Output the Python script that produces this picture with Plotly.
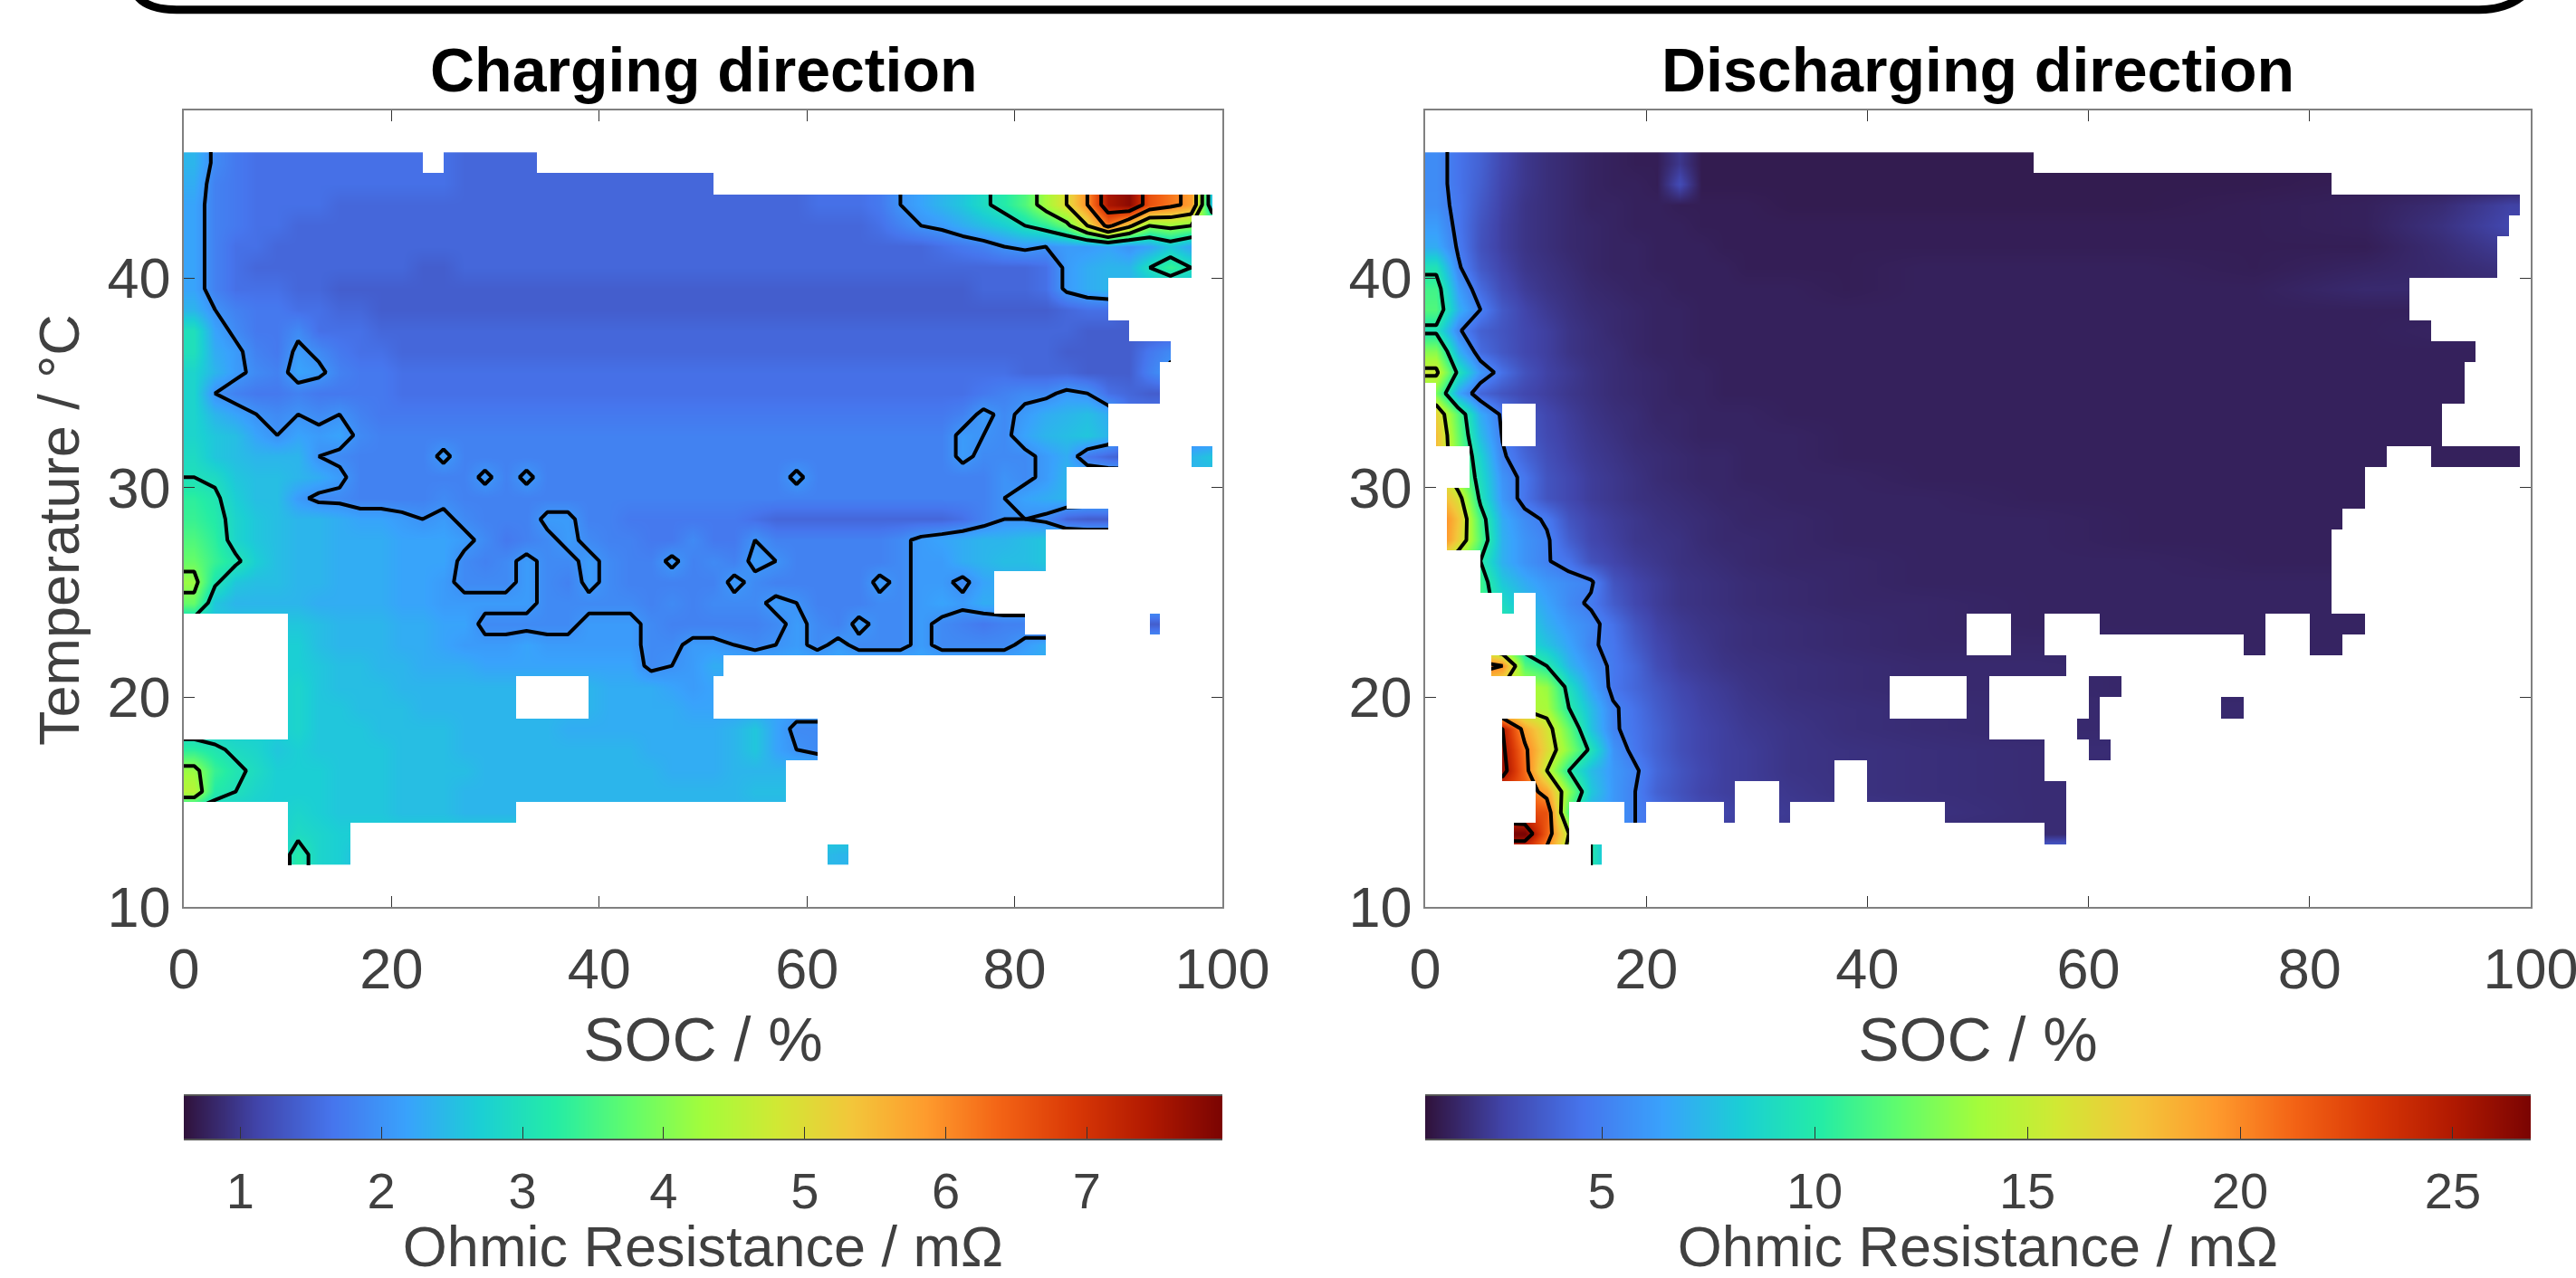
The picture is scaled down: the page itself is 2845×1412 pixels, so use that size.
import numpy as np
import plotly.graph_objects as go

W, H = 2845, 1412
temp_rows = list(range(45, 11, -1))          # lower edge of every 1 degC row
soc_charge = list(range(1, 100, 2))
soc_discharge = [1,3,5,7,9,11,13,15,17,19,21,23,25,27,29,33,38,45,55,65,75,85,92,98]

# Ohmic resistance, in 0.1 mOhm, top row first
charge_z = [
 [24,19,17]+[16]*10+[15]*5,
 [23,18,17]+[16]*10+[15]*13+[15]*4+[16,16,16,17,20,22,24,26,29,32,36,43,50,60,75,78,66,62,58,24],
 [22,18,17,16,16,16,16]+[15]*23+[16,16,16,17,20,22,24,26,29,32,36,43,50,60,75,78,66,62,58,24],
 [22,18,17,16,16]+[15]*28+[16,18,20,21,23,25,27,30,33,38,50,62,52,40,42,40],
 [22,18,16,16]+[15]*32+[16,17,18,20,21,20,21,21,22,20,22,26,22],
 [22,18,16]+[15]*8+[14,14]+[15]*27+[15,16,21,23,24,24,30,34,30],
 [22,18,16,16,16,15,15]+[14]*31+[15,15,15,16,21,23,24],
 [24,20,18,17,17,16,16,15,15]+[14]*31+[14,14,15,16,16,14],
 [30,22,19,17,17,19,16,16,16]+[15]*31+[15,15,15,14,14,14],
 [30,23,21,18,17,21,19,17,16,16]+[15]*30+[15,15,14,14,14,14,17,19],
 [28,24,21,19,18,22,21,18,17,17]+[16]*30+[15,15,15,14,14,14,18,21],
 [28,20,18,17,17,18,17,17,17,17]+[16]*28+[17,18,19,19,21,20,16,15,14],
 [28,24,22,20,19,20,19,20,18]+[17]*27+[17,18,21,19,21,23,24,25,23,17],
 [28,26,25,22,20,22,21,22,19]+[18]*28+[21,20,19,22,24,25,26,24,18],
 [29,26,25,24,24,24,20,19,18,18,18,18,21]+[18]*24+[21,19,19,19,21,23,17,15,14,14,14,24,26],
 [30,29,26,25,25,24,23,21,18,18,18,18,18,18,21,18,21]+[18]*12+[21]+[18]*9+[20,19,21,24],
 [33,31,27,25,25,21,19,19,18,18,18,18,19]+[18]*25+[18,20,22,23,24],
 [34,32,28,26,25,24,24,23,22,22,21,20,21,19,18,18,18,21,21,18,18,17,17,17,17,17,17,16,15,15,15,15,15,15,15,15,15,16,18,20,20,19,15,14,14],
 [36,33,28,26,25,24,24,23,23,23,22,22,22,21,19,17,18,19,21,19,18,18,17,17,19,17,17,20,18,18,18,18,18,18,19,21,22,23,24,24,25,26],
 [38,34,31,27,25,24,24,23,23,23,22,22,22,19,18,19,21,19,19,21,19,18,18,21,18,19,18,21,20,18,18,18,18,18,19,21,21,23,24,25,25,26],
 [42,31,26,25,25,24,24,23,23,23,22,22,21,19,19,19,21,19,18,21,19,18,18,18,18,18,21,19,18,18,18,18,18,21,19,21,21,19,22,23],
 [38,26,24,24,24,24,23,23,23,23,22,22,21,21,21,21,21,19,19,19,19,19,18,19,18,19,19,19,21,20,18,18,18,19,19,21,22,21,23,23],
 [26]*5+[26,25,24,24,24,23,23,22,22,19,19,19,19,19,21,21,21,19,18,18,18,18,18,19,21,19,18,21,19,19,21,19,18,17,18,18]+[14]*8,
 [27]*5+[27,25,24,24,24,23,23,22,21,21,21,22,21,21,21,21,21,19,19,21,21,20,19,20,21,19,21,19,19,19,21,19,19,19,19,21,23],
 [27]*5+[27,26,25,25,24,24,23,23,23,22,22,22,22,22,22,22,22,19,20,21,23],
 [27]*5+[28,26,25,25,25,24,24,24,24,24,24,24,24,24,24,23,23,23,22,21,22],
 [27]*5+[28,26,26,25,25,25,24,24,24,24,24,24,24,24,24,23,23,23,23,22,22],
 [27]*5+[28,26,26,26,25,25,25,25,24,24,24,24,24,23,23,23,23,23,23,23,23,24,26,22,19,19],
 [33,31,29,28,26,27,26,26,26,26,25,25,25,24,24,24,24,24,24,24,24,24,23,23,23,23,24,26,22,20,19],
 [42,34,31,29,27,27,27,26,26,26,25,25,25,25,24,24,24,24,24,24,24,24,24,23,23,23,24,24,24],
 [45,32,30,28,27,27,27,26,26,26,25,25,25,24,24,24,24,24,24,24,24,24,24,24,24,24,24,25,25],
 [27]*5+[28,27,26,26,26,25,25,25,24,24,24],
 [27]*5+[29,28,27],
 [27]*5+[32,28,27]+[25]*23+[24],
]
discharge_z = [
 [55,45,38,28,22,19,17,15,14,13,13,22,12,12,12,12,12,12,12],
 [55,45,37,27,22,19,17,15,14,14,13,30,12,12,12,12,12,12,12,12,12,13],
 [56,46,35,26,21,19,17,15,15,14,14,13,13,13,13,12,12,12,12,12,13,14,18,26],
 [62,46,33,25,21,19,17,16,15,14,14,14,13,13,13,13,13,13,13,13,13,14,20,28],
 [68,48,32,25,21,19,17,16,15,15,14,14,14,13,13,13,13,13,13,13,13,13,18,24],
 [95,52,35,27,22,20,18,16,15,15,14,14,14,14,13,13,13,14,14,14,13,15,17,20],
 [110,62,42,30,24,21,19,17,16,15,15,14,14,14,14,14,13,14,14,14,14,17],
 [115,70,50,35,27,23,20,18,17,16,15,15,14,14,14,14,14,14,14,14,14,14,14],
 [95,52,38,33,28,25,21,19,17,16,15,15,14,14,14,14,14,14,14,14,14,14,15],
 [130,70,42,34,28,25,21,19,18,16,15,15,14,14,14,14,14,14,14,14,14,14,14],
 [155,95,60,44,32,26,23,20,18,17,16,15,15,14,14,14,14,14,14,14,14,14,14],
 [125,65,40,33,28,25,22,20,18,17,16,15,15,14,14,14,14,14,14,14,14,14,14],
 [170,115,68,47,35,28,24,21,19,18,16,16,15,15,15,14,14,14,14,14,14,14,14],
 [180,120,75,49,36,29,25,22,20,18,17,16,15,15,15,15,14,14,14,14,14,14,14],
 [180,125,85,52,40,31,26,23,21,19,18,17,16,16,15,15,14,14,14,14,14,14,14,14],
 [185,130,90,58,46,33,28,24,22,20,18,17,16,16,15,15,15,14,14,14,14,14],
 [190,160,95,60,45,33,28,24,22,20,19,18,17,16,16,15,15,15,14,14,14,14],
 [215,175,110,68,55,48,33,27,24,22,20,19,18,17,16,16,15,15,15,14,14,14],
 [215,170,115,70,58,52,37,28,25,22,21,20,18,17,17,16,15,15,15,14,14],
 [170,130,100,70,58,51,45,32,27,24,22,20,19,18,17,16,16,15,15,15,14],
 [160,125,110,80,68,60,55,52,33,27,24,21,20,19,18,17,16,15,15,15,15],
 [160,125,110,90,75,65,54,48,36,28,24,21,20,19,18,17,16,16,15,15,15],
 [170,140,120,100,85,70,60,54,44,33,26,23,21,20,19,18,17,16,15,15,15,15],
 [170,150,130,110,90,78,65,52,46,36,28,24,22,20,19,18,17,16,16,16,15,15],
 [220,220,215,200,115,100,72,58,47,40,30,25,23,21,20,19,18,17,17,16],
 [190,170,160,150,145,135,92,65,46,40,34,28,25,23,21,19,18,17,17,16],
 [190,170,160,150,145,140,100,75,52,44,36,30,26,24,22,20,19,18,17,17,17],
 [255,255,255,250,190,160,120,78,52,45,38,31,27,25,23,21,19,18,17,17],
 [255,255,255,255,205,165,130,95,58,46,38,31,27,25,24,21,20,19,18],
 [260,260,260,260,210,150,100,75,60,52,40,33,28,25,24,21,20,19,18,17],
 [230,230,230,225,215,190,130,80,60,50,38,32,27,25,24,22,20,19,18],
 [240,240,240,230,225,220,110,70,60,50,44,35,30,27,25,23,22,20,18],
 [270,270,270,270,270,215,150,100,60,50,40,30,27,25,24,22,20,18,18],
 [215,215,215,215,215,190,140,100,60,50],
]

# measured SOC spans per temperature row
charge_spans = {
 45:[(0,23),(25,34)],44:[(0,51)],43:[(0,99)],42:[(0,97)],41:[(0,97)],40:[(0,97)],
 39:[(0,89)],38:[(0,89)],37:[(0,91)],36:[(0,95)],35:[(0,94)],34:[(0,94)],33:[(0,89)],32:[(0,89)],
 31:[(0,90),(97,99)],30:[(0,85)],29:[(0,85)],28:[(0,89)],27:[(0,83)],26:[(0,83)],25:[(0,78)],24:[(0,78)],
 23:[(10,81),(93,94)],22:[(10,83)],21:[(10,52)],20:[(10,32),(39,51)],19:[(10,32),(39,51)],18:[(10,61)],
 17:[(0,61)],16:[(0,58)],15:[(0,58)],14:[(10,32)],13:[(10,16)],12:[(10,16),(62,64)],
}
discharge_spans = {
 45:[(0,55)],44:[(0,82)],43:[(0,99)],42:[(0,98)],41:[(0,97)],40:[(0,97)],39:[(0,89)],38:[(0,89)],
 37:[(0,91)],36:[(0,95)],35:[(0,94)],34:[(1,94)],33:[(1,7),(10,92)],32:[(1,7),(10,92)],
 31:[(4,87),(91,99)],30:[(4,85)],29:[(2,85)],28:[(2,83)],27:[(2,82)],26:[(5,82)],25:[(5,82)],
 24:[(7,8),(10,82)],23:[(10,49),(53,56),(61,76),(80,85)],22:[(10,49),(53,56),(74,76),(80,83)],
 21:[(6,58)],20:[(10,42),(49,51),(60,63)],19:[(10,42),(49,51),(60,61),(72,74)],18:[(7,51),(59,61)],
 17:[(7,56),(60,62)],16:[(7,37),(40,56)],15:[(10,28),(32,37),(40,58)],
 14:[(10,13),(18,20),(27,28),(32,33),(47,58)],13:[(8,13),(56,58)],12:[(15,16)],
}
soc_ticks = [0,20,40,60,80,100]
temp_ticks = [10,20,30,40]
charge_cbar_ticks = [1,2,3,4,5,6,7]
discharge_cbar_ticks = [5,10,15,20,25]
charge_levels = dict(start=2, end=7, size=1)
discharge_levels = dict(start=5, end=25, size=5)
charge_range = (0.6, 7.96)
discharge_range = (0.85, 26.83)

GREY = "#404040"
FONT = "Liberation Sans"
def px(x): return x / W
def py(y): return 1 - y / H

def full(rows, ncol):
    return np.array([r + [r[-1]] * (ncol - len(r)) for r in rows], float) / 10

def gap_runs(spans):
    """Runs of SOC in every 1 degC row where nothing was measured."""
    runs = []
    for t in range(10, 48):
        pos = 0
        for a, b in sorted(spans.get(t, [])):
            if a > pos:
                runs.append((t, pos, a))
            pos = b
        if pos < 100:
            runs.append((t, pos, 100))
    return runs

def panel(fig, n, soc, rows, spans, levels, rng):
    x_ax, y_ax = f"x{n}", f"y{n}"
    z = full(rows, len(soc))
    ys = [t + .5 for t in temp_rows]
    fig.add_trace(go.Heatmap(x=soc, y=ys, z=z, xaxis=x_ax, yaxis=y_ax, zsmooth="best", showscale=False,
        colorscale="Turbo", zmin=rng[0], zmax=rng[1], hoverinfo="skip"))
    # iso-lines: the grid is continued one step past its edge so lines run up to the mask
    zc = np.pad(z, 1, mode="edge")
    xc = [soc[0] - 3] + list(soc) + [soc[-1] + 3]
    yc = [ys[0] + 2] + ys + [ys[-1] - 2]
    fig.add_trace(go.Contour(x=xc, y=yc, z=zc, xaxis=x_ax, yaxis=y_ax, showscale=False,
        autocontour=False, contours=dict(coloring="none", **levels),
        line=dict(color="black", width=4, smoothing=0), hoverinfo="skip"))
    # white runs where nothing was measured (bars lie above the iso-lines)
    runs = gap_runs(spans)
    fig.add_trace(go.Bar(orientation="h", y=[t + .5 for t, a, b in runs], x=[b - a for t, a, b in runs],
        base=[a for t, a, b in runs], width=1, xaxis=x_ax, yaxis=y_ax,
        marker=dict(color="white", line=dict(width=0)), hoverinfo="skip"))

def scale_bar(fig, n, rng):
    xs = np.linspace(rng[0], rng[1], 256)
    fig.add_trace(go.Heatmap(x=xs, y=[0, 1], z=[xs, xs], xaxis=f"x{n}", yaxis=f"y{n}", showscale=False,
        colorscale="Turbo", zmin=rng[0], zmax=rng[1], zsmooth="best", hoverinfo="skip"))

fig = go.Figure()
LBOX, RBOX = (203, 1350), (1574, 2795)
panel(fig, "", soc_charge, charge_z, charge_spans, charge_levels, charge_range)
panel(fig, "2", soc_discharge, discharge_z, discharge_spans, discharge_levels, discharge_range)
scale_bar(fig, "3", charge_range)
scale_bar(fig, "4", discharge_range)

AX = dict(ticks="inside", ticklen=12, tickwidth=1, tickcolor="#333333", mirror="ticks", showline=True,
          linecolor="#808080", linewidth=1.5, showgrid=False, zeroline=False)
def ax(box, anchor):
    return dict(AX, domain=[px(box[0]), px(box[1])], range=[0, 100], anchor=anchor, tickvals=soc_ticks,
        ticklabelstandoff=13, ticklabeloverflow="allow", tickfont=dict(family=FONT, size=63, color=GREY),
        title=dict(text="SOC / %", standoff=20, font=dict(family=FONT, size=68, color=GREY)))
def ay(anchor):
    return dict(AX, domain=[py(1002), py(122)], range=[10, 48], anchor=anchor, tickvals=temp_ticks,
        tickfont=dict(family=FONT, size=63, color=GREY))
def cx(box, rng, ticks, anchor):
    return dict(domain=[px(box[0]), px(box[1])], range=list(rng), anchor=anchor, tickvals=ticks,
        ticks="inside", ticklen=13, tickwidth=1, tickcolor="#333333", showline=True, mirror=True,
        linecolor="#555555", linewidth=1.5, showgrid=False, zeroline=False, ticklabelstandoff=8,
        tickfont=dict(family=FONT, size=56, color=GREY),
        title=dict(text="Ohmic Resistance / mΩ", standoff=38, font=dict(family=FONT, size=63, color=GREY)))
def cy(anchor):
    return dict(domain=[py(1258), py(1211)], range=[0, 1], anchor=anchor, visible=False)

titles = [("Charging direction", LBOX), ("Discharging direction", RBOX)]
annos = [dict(text=t, x=px((b[0]+b[1])/2), y=py(122), xref="paper", yref="paper", xanchor="center",
              yanchor="bottom", yshift=5, showarrow=False,
              font=dict(family=FONT, size=68, color="black", weight="bold"))
         for t, b in titles]
annos.append(dict(text="Temperature / °C", x=px(65), y=py(586), xref="paper", yref="paper", textangle=-90,
                  xanchor="center", yanchor="middle", showarrow=False,
                  font=dict(family=FONT, size=63, color=GREY)))

frame = f"M {px(148)},{py(-10)} Q {px(158)},{py(10.7)} {px(195)},{py(10.7)} L {px(2738)},{py(10.7)} Q {px(2772)},{py(10.7)} {px(2792)},{py(-10)}"

fig.update_layout(width=W, height=H, margin=dict(l=0, r=0, t=0, b=0, autoexpand=False),
    paper_bgcolor="white", plot_bgcolor="white", showlegend=False, barmode="overlay", bargap=0,
    xaxis=ax(LBOX, "y"), yaxis=ay("x"),
    xaxis2=ax(RBOX, "y2"), yaxis2=ay("x2"),
    xaxis3=cx(LBOX, charge_range, charge_cbar_ticks, "y3"), yaxis3=cy("x3"),
    xaxis4=cx(RBOX, discharge_range, discharge_cbar_ticks, "y4"), yaxis4=cy("x4"),
    annotations=annos,
    shapes=[dict(type="path", path=frame, xref="paper", yref="paper", line=dict(color="black", width=9))])

fig.write_html("out.html", config=dict(displayModeBar=False),
               post_script="document.body.style.margin='0';document.body.style.overflow='hidden';")
